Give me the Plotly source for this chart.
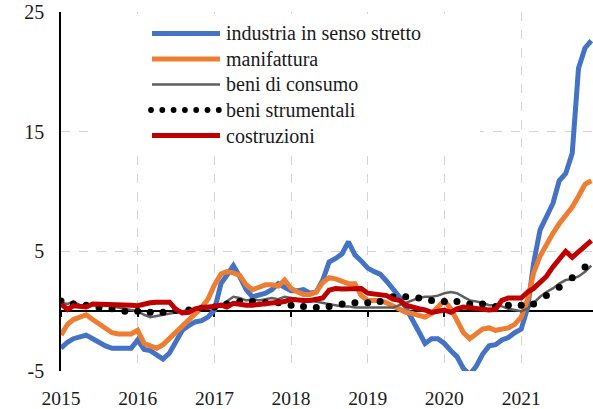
import pandas as pd
import plotly.graph_objects as go

# ---------------- data (monthly, Jan 2015 - Dec 2021) ----------------
months = pd.date_range("2015-01-01", periods=84, freq="MS")

industria = [
    -3.1, -2.6, -2.3, -2.2, -2.0, -2.3, -2.6, -2.9, -3.1, -3.1, -3.2, -3.1,
    -2.4, -3.2, -3.3, -3.6, -4.0, -3.5, -2.6, -1.6, -1.2, -0.9, -0.8, -0.5,
    0.1, 2.3, 3.0, 3.8, 2.9, 1.8, 1.2, 1.3, 1.5, 1.8, 2.3, 2.0,
    1.7, 1.7, 1.8, 1.5, 1.6, 2.6, 4.1, 4.4, 4.8, 5.8, 4.7, 4.2,
    3.6, 3.3, 3.1, 2.5, 1.8, 1.2, 0.3, -0.6, -1.7, -2.7, -2.3, -2.3,
    -2.7, -3.3, -3.8, -4.8, -5.3, -4.6, -3.6, -2.9, -2.8, -2.4, -2.2, -1.8,
    -1.5, 0.3, 4.0, 6.8, 7.9, 9.0, 10.9, 11.5, 13.2, 20.3, 22.0, 22.6,
]
manifattura = [
    -2.0, -1.1, -0.7, -0.5, -0.3, -0.7, -1.1, -1.5, -1.8, -1.9, -1.9, -1.9,
    -1.6, -2.7, -2.9, -3.1, -2.8, -2.3, -1.7, -1.3, -0.7, -0.2, 0.3, 1.0,
    2.2, 3.1, 3.3, 3.2, 3.0, 2.2, 1.8, 2.0, 2.2, 2.2, 2.1, 2.6,
    1.9, 1.6, 1.4, 1.4, 1.6, 2.4, 2.8, 2.7, 2.5, 2.3, 2.3, 1.3,
    0.9, 0.9, 0.9, 0.7, 0.4, 0.1, -0.1, -0.2, -0.3, -0.5, -0.2, 0.4,
    0.9, 0.2, -0.8, -1.8, -2.3, -1.9, -1.5, -1.4, -1.6, -1.5, -1.4, -1.1,
    -0.5, 1.0, 3.2, 4.6, 5.6, 6.5, 7.3, 8.0, 8.7, 9.6, 10.6, 10.9,
]
beni_consumo = [
    0.7, 0.6, 0.8, 0.5, 0.5, 0.6, 0.5, 0.5, 0.4, 0.3, 0.2, 0.1,
    0.0, -0.3, -0.5, -0.4, -0.3, -0.2, -0.1, 0.0, 0.1, 0.1, 0.2, 0.2,
    0.3, 0.5, 0.8, 1.2, 1.1, 0.9, 1.0, 0.9, 1.0, 1.1, 1.0, 1.2,
    1.1, 1.0, 0.9, 0.9, 0.8, 0.7, 0.6, 0.5, 0.4, 0.4, 0.3, 0.3,
    0.3, 0.3, 0.25, 0.3, 0.3, 0.5, 0.7, 0.9, 1.1, 1.2, 1.2, 1.3,
    1.5, 1.6, 1.5, 1.2, 0.9, 0.8, 0.7, 0.5, 0.5, 0.4, 0.2, 0.1,
    0.0, 0.2, 0.7, 1.2, 1.6, 1.9, 2.3, 2.6, 2.7, 2.9, 3.3, 3.8,
]
beni_strumentali = [
    0.85, 0.7, 0.6, 0.55, 0.5, 0.4, 0.3, 0.25, 0.2, 0.1, 0.0, 0.0,
    0.0, -0.05, -0.1, -0.15, -0.1, 0.0, 0.05, 0.1, 0.1, 0.2, 0.25, 0.3,
    0.35, 0.45, 0.6, 0.75, 0.8, 0.8, 0.8, 0.75, 0.7, 0.7, 0.7, 0.6,
    0.5, 0.45, 0.4, 0.35, 0.3, 0.35, 0.4, 0.5, 0.6, 0.65, 0.7, 0.7,
    0.7, 0.75, 0.8, 1.0, 1.2, 1.2, 1.2, 1.2, 1.1, 1.0, 0.9, 0.9,
    0.8, 0.8, 0.8, 0.7, 0.6, 0.6, 0.6, 0.5, 0.4, 0.35, 0.5, 0.6,
    0.5, 0.35, 0.6, 1.0, 1.3, 1.6, 2.0, 2.3, 2.8, 3.2, 3.7, 4.3,
]
costruzioni = [
    0.6, 0.15, 0.45, 0.35, 0.35, 0.6, 0.6, 0.5, 0.6, 0.6, 0.5, 0.5,
    0.45, 0.6, 0.7, 0.75, 0.75, 0.75, 0.15, -0.15, -0.1, 0.2, 0.3, 0.3,
    0.4, 0.5, 0.35, 0.65, 0.55, 0.5, 0.5, 0.55, 0.6, 0.65, 0.65, 0.8,
    1.0, 0.9, 0.9, 0.9, 1.0, 1.1, 1.75, 1.9, 1.85, 1.85, 1.85, 1.9,
    1.5, 1.4, 1.4, 1.3, 1.0, 0.9, 0.5, 0.3, 0.2, 0.1, -0.1, 0.0,
    0.1, -0.1, 0.2, 0.35, 0.3, 0.2, 0.1, 0.1, 0.15, 0.9, 1.1, 1.1,
    1.1, 1.6, 1.9, 2.4, 2.9, 3.7, 4.3, 5.0, 4.5, 5.0, 5.5, 5.9,
]

series_names = ["industria in senso stretto", "manifattura", "beni di consumo",
                "beni strumentali", "costruzioni"]
year_ticks = pd.date_range("2015-01-01", periods=7, freq="YS")
year_labels = [str(d.year) for d in year_ticks]
y_ticks = [-5, 5, 15, 25]
y_labels = ["-5", "5", "15", "25"]

# ---------------- style ----------------
BLUE = "#4472C4"
ORANGE = "#ED7D31"
GRAY = "#5f5f5f"
RED = "#C00000"
FONT = "Liberation Serif"
TXT = "#1a1a1a"
W, H = 593, 409
ML, MR, MT, MB = 61, 0, 12, 38
X_RANGE = ["2015-01-01", "2021-12-09"]
Y_RANGE = [-5, 25]

fig = go.Figure()
fig.add_trace(go.Scatter(x=months, y=industria, mode="lines", name=series_names[0],
                         line=dict(color=BLUE, width=5)))
fig.add_trace(go.Scatter(x=months, y=manifattura, mode="lines", name=series_names[1],
                         line=dict(color=ORANGE, width=5)))
fig.add_trace(go.Scatter(x=months, y=beni_consumo, mode="lines", name=series_names[2],
                         line=dict(color=GRAY, width=2.5)))
fig.add_trace(go.Scatter(x=months[::2], y=beni_strumentali[::2], mode="markers",
                         name=series_names[3], marker=dict(color="black", size=7)))
fig.add_trace(go.Scatter(x=months, y=costruzioni, mode="lines", name=series_names[4],
                         line=dict(color=RED, width=5), xaxis="x2"))

grid = dict(showgrid=True, gridcolor="#d4d4d4", gridwidth=1, griddash="dash")

fig.update_layout(
    width=W, height=H,
    margin=dict(l=ML, r=MR, t=MT, b=MB, autoexpand=False),
    paper_bgcolor="white", plot_bgcolor="white",
    showlegend=False,
    font=dict(family=FONT, size=20, color=TXT),
    xaxis=dict(type="date", range=X_RANGE, tickvals=year_ticks, ticktext=year_labels,
               showline=False, ticks="", zeroline=False, ticklabelstandoff=13,
               automargin=False,
               tickfont=dict(family=FONT, size=19.5, color=TXT), **grid),
    xaxis2=dict(type="date", range=X_RANGE, overlaying="x", anchor="free",
                position=(0 - Y_RANGE[0]) / (Y_RANGE[1] - Y_RANGE[0]),
                tickvals=year_ticks, showticklabels=False, showgrid=False,
                showline=True, linecolor="black", linewidth=1.5,
                ticks="outside", ticklen=5, tickwidth=1.5, tickcolor="black",
                zeroline=False, layer="below traces", automargin=False),
    yaxis=dict(range=Y_RANGE, tickvals=y_ticks, ticktext=y_labels, showline=True,
               linecolor="black", linewidth=1.5, ticks="", zeroline=False,
               ticklabelstandoff=11, automargin=False,
               tickfont=dict(family=FONT, size=20, color=TXT), **grid),
)

# ---------------- legend (drawn as a box with samples) ----------------
PW = W - ML - MR
PH = H - MT - MB


def px_x(px):
    return (px - ML) / PW


def px_y(py):
    return (H - MB - py) / PH


shapes = [dict(type="rect", xref="paper", yref="paper", layer="above",
               x0=px_x(90), x1=px_x(480), y0=px_y(150), y1=px_y(14),
               fillcolor="white", line=dict(width=0))]
legend_rows = [33.5, 59, 84.5, 110, 135.5]
legend_styles = [(BLUE, 5), (ORANGE, 5), (GRAY, 2.5), None, (RED, 5)]
annotations = []
for name, row, style in zip(series_names, legend_rows, legend_styles):
    if style is None:
        for k in range(7):
            cx = 151 + k * 11.3
            shapes.append(dict(type="circle", xref="paper", yref="paper", layer="above",
                               xsizemode="pixel", ysizemode="pixel",
                               xanchor=px_x(cx), yanchor=px_y(row),
                               x0=-2.9, x1=2.9, y0=-2.9, y1=2.9,
                               fillcolor="black", line=dict(width=0)))
    else:
        color, width = style
        shapes.append(dict(type="line", xref="paper", yref="paper", layer="above",
                           x0=px_x(152), x1=px_x(220), y0=px_y(row), y1=px_y(row),
                           line=dict(color=color, width=width)))
    annotations.append(dict(text=name, xref="paper", yref="paper", x=px_x(224),
                            y=px_y(row), xanchor="left", yanchor="middle",
                            showarrow=False,
                            font=dict(family=FONT, size=20, color=TXT)))
fig.update_layout(shapes=shapes, annotations=annotations)

fig.write_html("out.html", config={"displayModeBar": False},
               post_script="document.body.style.margin='0';document.body.style.padding='0';")
